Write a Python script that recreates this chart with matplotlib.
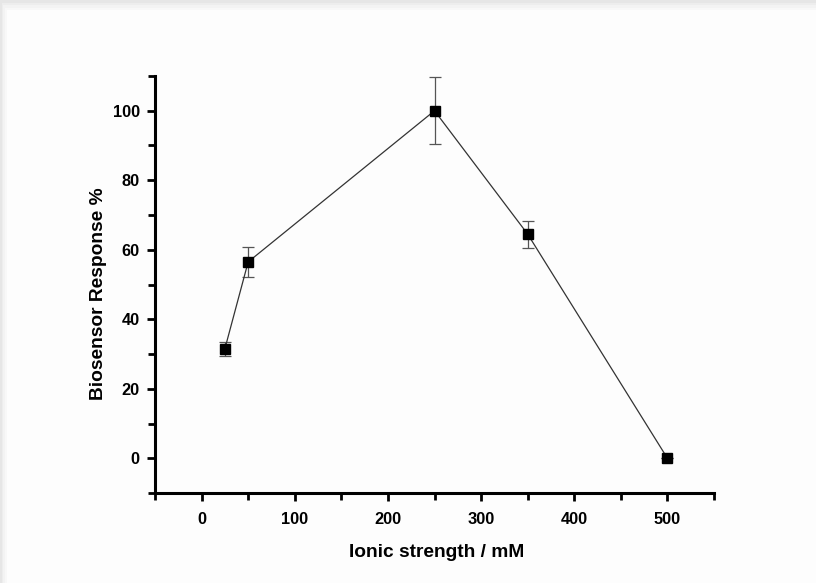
import matplotlib.pyplot as plt
from matplotlib.patches import Rectangle

ionic_strength = [25, 50, 250, 350, 500]
response = [31.5, 56.5, 100.0, 64.5, 0.0]
response_err = [2.0, 4.2, 9.6, 3.9, 0.0]

x_ticks = [0, 100, 200, 300, 400, 500]
y_ticks = [0, 20, 40, 60, 80, 100]

plt.rcParams['font.family'] = ['Liberation Sans', 'DejaVu Sans']
plt.rcParams['font.weight'] = 'bold'

fig = plt.figure(figsize=(8.16, 5.83), dpi=100)
fig.patch.set_facecolor('#ececec')

# page with a soft shadow along the top and left edges
for i, c in enumerate(['#e6e6e6', '#ededed', '#f3f3f3', '#f8f8f8']):
    fig.patches.append(Rectangle((i*1.5/816, 0), 1, 1 - i*2.5/583,
                                 transform=fig.transFigure, facecolor=c,
                                 edgecolor='none', zorder=-3+i))
fig.patches.append(Rectangle((7/816, 0), 1, 1 - 10/583,
                             transform=fig.transFigure, facecolor='#fdfdfd',
                             edgecolor='none', zorder=2))

ax = fig.add_axes([155/816, 90/583, 559/816, 417/583])
ax.set_facecolor('none')
ax.set_zorder(3)

ax.errorbar(ionic_strength, response, yerr=response_err, fmt='-s',
            color='#333333', lw=0.9, ms=6.5, mfc='black', mec='black',
            ecolor='#555555', elinewidth=0.9, capsize=4, capthick=0.9)

ax.set_xlim(-50, 550)
ax.set_ylim(-10, 110)
ax.set_xticks(x_ticks)
ax.set_yticks(y_ticks)
ax.set_xticks([-50, 50, 150, 250, 350, 450, 550], minor=True)
ax.set_yticks([-10, 10, 30, 50, 70, 90, 110], minor=True)

for s in ['top', 'right']:
    ax.spines[s].set_visible(False)
for s in ['left', 'bottom']:
    ax.spines[s].set_linewidth(2.2)

ax.tick_params(which='major', direction='out', length=6, width=2, labelsize=11.8, pad=5)
ax.tick_params(axis='x', which='major', pad=8)
ax.tick_params(which='minor', direction='out', length=5, width=2)
for lab in ax.get_xticklabels() + ax.get_yticklabels():
    lab.set_fontweight('bold')

ax.set_xlabel('Ionic strength / mM', fontsize=13.8, fontweight='bold', labelpad=12)
ax.set_ylabel('Biosensor Response %', fontsize=13.8, fontweight='bold', labelpad=4)
ax.xaxis.label.set_x(0.503)
ax.yaxis.label.set_y(0.477)

fig.savefig('out.png', dpi=100)
